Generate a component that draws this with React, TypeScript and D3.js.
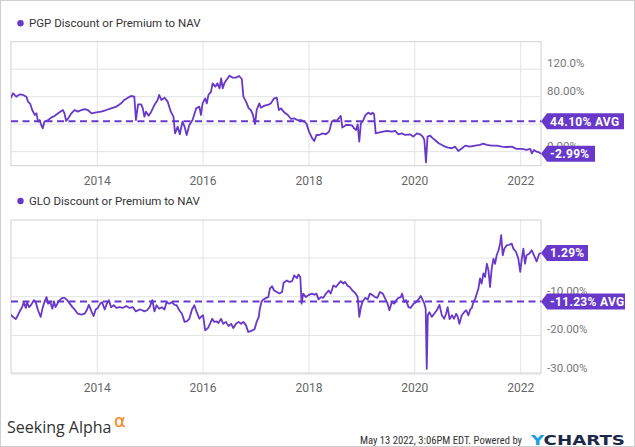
import * as d3 from 'd3'

const W = 635
const H = 447
const purple = '#6738c9'
const font = 'Roboto, "Noto Sans", sans-serif'

// PGP discount or premium to NAV (%), sampled at decimal years
const pgpYears = [
  2012.36, 2012.41, 2012.47, 2012.53, 2012.6, 2012.66, 2012.69, 2012.73, 2012.77, 2012.82,
  2012.85, 2012.88, 2012.91, 2012.94, 2012.97, 2013.0, 2013.07, 2013.13, 2013.19, 2013.26,
  2013.32, 2013.35, 2013.38, 2013.41, 2013.45, 2013.51, 2013.57, 2013.63, 2013.7, 2013.76,
  2013.82, 2013.89, 2013.98, 2014.07, 2014.17, 2014.26, 2014.36, 2014.45, 2014.51, 2014.58,
  2014.64, 2014.7, 2014.73, 2014.77, 2014.83, 2014.86, 2014.89, 2014.92, 2014.97, 2015.02,
  2015.08, 2015.14, 2015.17, 2015.21, 2015.27, 2015.33, 2015.39, 2015.44, 2015.47, 2015.52,
  2015.56, 2015.61, 2015.65, 2015.69, 2015.74, 2015.8, 2015.87, 2015.93, 2015.96, 2015.99,
  2016.04, 2016.07, 2016.1, 2016.15, 2016.18, 2016.23, 2016.27, 2016.31, 2016.34, 2016.37,
  2016.4, 2016.44, 2016.5, 2016.56, 2016.62, 2016.68, 2016.73, 2016.76, 2016.81, 2016.86,
  2016.9, 2016.94, 2016.98, 2017.01, 2017.06, 2017.09, 2017.16, 2017.22, 2017.28, 2017.34,
  2017.39, 2017.43, 2017.47, 2017.53, 2017.6, 2017.66, 2017.72, 2017.78, 2017.85, 2017.91,
  2017.95, 2018.0, 2018.06, 2018.1, 2018.14, 2018.19, 2018.26, 2018.32, 2018.38, 2018.43,
  2018.48, 2018.52, 2018.56, 2018.6, 2018.63, 2018.7, 2018.76, 2018.82, 2018.85, 2018.89,
  2018.92, 2018.95, 2018.98, 2019.02, 2019.07, 2019.12, 2019.17, 2019.2, 2019.23, 2019.26,
  2019.33, 2019.47, 2019.57, 2019.63, 2019.69, 2019.75, 2019.82, 2019.91, 2019.97, 2020.04,
  2020.1, 2020.15, 2020.18, 2020.21, 2020.24, 2020.29, 2020.34, 2020.38, 2020.45, 2020.51,
  2020.57, 2020.63, 2020.7, 2020.76, 2020.82, 2020.89, 2020.95, 2021.04, 2021.14, 2021.23,
  2021.29, 2021.36, 2021.45, 2021.55, 2021.64, 2021.73, 2021.83, 2021.92, 2022.02, 2022.11,
  2022.18, 2022.21, 2022.25, 2022.3, 2022.35, 2022.38,
]
const pgpValues = [
  77.6, 85, 80, 83.4, 82.5, 80, 72.8, 70, 60.6, 53.4,
  55.8, 43.7, 46, 38.8, 34, 43.7, 46, 49.5, 52, 55.8,
  59.2, 60.6, 55.8, 44.7, 48.5, 55.8, 60.6, 58.2, 60.6, 62,
  60.6, 55.8, 57.3, 58.2, 60.6, 63, 65.5, 70.3, 75.2, 78.6,
  81, 80, 46, 68.9, 68.9, 63, 51, 58.2, 52.4, 58.2,
  68, 75.2, 82.5, 75.2, 78.6, 72.8, 58.2, 51, 26.7, 36.4,
  25.3, 43.7, 36.4, 24.3, 38.8, 46, 63, 65.5, 53.4, 70.3,
  77.6, 70.3, 82.5, 87.3, 99.4, 94.6, 99.4, 92.2, 106.7, 92.2,
  99.4, 104.3, 110.6, 107.7, 107.7, 110.1, 105.7, 80, 72.8, 63,
  60.6, 53.4, 40.3, 60.6, 70.3, 64, 67, 68, 70.3, 77.6,
  78.6, 60.6, 63, 57.3, 53.4, 47.6, 48.5, 46, 46, 43.7,
  41.2, 29.2, 19.4, 15.6, 24.3, 24.3, 26.7, 25.3, 29.2, 43.7,
  46, 44.7, 48.5, 52, 35, 38.8, 38.8, 37.9, 34, 31.6,
  39.8, 14.6, 41.2, 44.7, 53.4, 56.8, 54.4, 56.8, 54.4, 26.7,
  28.2, 30.1, 29.2, 30.1, 25.3, 26.7, 24.3, 25.3, 21.9, 26.7,
  25.3, 21.9, 17, -15.5, 21.9, 23.3, 19.4, 17, 12.2, 9.8,
  7.3, 5.9, 5, 7.3, 1, 5, 8.8, 7.3, 8.8, 9.8,
  11.7, 9.8, 8.8, 8.8, 7.3, 6.8, 7.3, 4, 4, 2.5,
  4, -2.4, 2.5, 0, -1, -2.99,
]

// GLO discount or premium to NAV (%), sampled at decimal years
const gloYears = [
  2012.36, 2012.41, 2012.46, 2012.5, 2012.545, 2012.58, 2012.61, 2012.65, 2012.67, 2012.71,
  2012.75, 2012.8, 2012.835, 2012.88, 2012.93, 2012.97, 2013.0, 2013.04, 2013.07, 2013.11,
  2013.15, 2013.18, 2013.21, 2013.26, 2013.29, 2013.34, 2013.38, 2013.43, 2013.48, 2013.53,
  2013.57, 2013.63, 2013.7, 2013.76, 2013.8, 2013.84, 2013.89, 2013.93, 2013.97, 2014.01,
  2014.055, 2014.09, 2014.14, 2014.18, 2014.22, 2014.26, 2014.31, 2014.36, 2014.42, 2014.48,
  2014.545, 2014.61, 2014.67, 2014.73, 2014.8, 2014.85, 2014.89, 2014.94, 2014.99, 2015.04,
  2015.08, 2015.12, 2015.17, 2015.22, 2015.27, 2015.31, 2015.36, 2015.41, 2015.46, 2015.5,
  2015.55, 2015.6, 2015.65, 2015.69, 2015.74, 2015.79, 2015.835, 2015.88, 2015.93, 2015.96,
  2016.0, 2016.04, 2016.09, 2016.13, 2016.17, 2016.21, 2016.26, 2016.29, 2016.34, 2016.38,
  2016.43, 2016.48, 2016.53, 2016.57, 2016.62, 2016.67, 2016.715, 2016.76, 2016.81, 2016.85,
  2016.9, 2016.97, 2017.01, 2017.05, 2017.07, 2017.105, 2017.14, 2017.19, 2017.23, 2017.26,
  2017.3, 2017.34, 2017.39, 2017.44, 2017.49, 2017.52, 2017.58, 2017.63, 2017.68, 2017.72,
  2017.77, 2017.8, 2017.835, 2017.86, 2017.89, 2017.94, 2017.99, 2018.055, 2018.1, 2018.14,
  2018.18, 2018.225, 2018.27, 2018.32, 2018.37, 2018.41, 2018.46, 2018.51, 2018.56, 2018.6,
  2018.65, 2018.68, 2018.73, 2018.77, 2018.82, 2018.87, 2018.92, 2018.95, 2018.98, 2019.01,
  2019.06, 2019.11, 2019.15, 2019.2, 2019.25, 2019.29, 2019.34, 2019.395, 2019.44, 2019.485,
  2019.52, 2019.565, 2019.61, 2019.65, 2019.69, 2019.735, 2019.76, 2019.8, 2019.835, 2019.88,
  2019.92, 2019.975, 2020.025, 2020.07, 2020.11, 2020.15, 2020.18, 2020.205, 2020.225, 2020.245,
  2020.275, 2020.32, 2020.365, 2020.415, 2020.465, 2020.51, 2020.555, 2020.59, 2020.62, 2020.655,
  2020.7, 2020.74, 2020.78, 2020.81, 2020.84, 2020.885, 2020.93, 2020.97, 2021.01, 2021.045,
  2021.075, 2021.105, 2021.14, 2021.17, 2021.2, 2021.23, 2021.26, 2021.295, 2021.325, 2021.36,
  2021.39, 2021.42, 2021.45, 2021.485, 2021.515, 2021.545, 2021.58, 2021.61, 2021.63, 2021.66,
  2021.69, 2021.735, 2021.785, 2021.83, 2021.86, 2021.91, 2021.955, 2021.99, 2022.02, 2022.05,
  2022.08, 2022.11, 2022.16, 2022.205, 2022.25, 2022.3, 2022.35, 2022.38,
]
const gloValues = [
  -14.6, -15.2, -15.8, -14.8, -13.5, -12.7, -11.5, -12.9, -11.4, -12.7,
  -12.1, -10.9, -11.4, -13.5, -15.2, -12.7, -11.4, -10.1, -11.8, -11.4,
  -13.1, -11.2, -12.7, -11.4, -10.9, -10.3, -10.3, -10.9, -11.8, -12.7,
  -13.3, -14.4, -14.6, -14.4, -13.5, -12.1, -13.8, -15, -13.3, -12.9,
  -11.8, -11.4, -13.3, -11.8, -10.9, -12.7, -12.2, -12.9, -12.7, -12.9,
  -12.4, -12.9, -12.7, -13.8, -13.3, -13.5, -13.8, -13.5, -12.7, -10.9,
  -13.8, -12.2, -13.1, -12.7, -13.3, -11.4, -11.8, -11.4, -12.1, -12.2,
  -13.5, -14.4, -16.5, -16.4, -15.7, -13.3, -12.2, -14, -15.7, -15.2,
  -14.8, -18.7, -18.1, -17, -15.7, -16.5, -16.4, -16.8, -15.7, -17,
  -16.5, -17.6, -17, -18.1, -17, -16.5, -17, -16.5, -17.4, -19.1,
  -18.9, -18.4, -16.5, -15.2, -13.1, -11.2, -10.7, -10.3, -10.1, -7.9,
  -7.3, -8.4, -8.8, -9.2, -8.8, -6.4, -5.8, -6.2, -6.0, -4.5,
  -5.2, -4.3, -4.9, -11.8, -9.2, -10.1, -9.6, -9.2, -9.5, -9.2,
  -10.7, -10.1, -10.3, -9.2, -8.4, -9.2, -7.1, -7.5, -6.6, -6.0,
  -6.6, -6.2, -7.2, -7.5, -8.4, -9, -10.1, -15.2, -12.7, -11.4,
  -10.3, -10.7, -9.2, -9.6, -10.1, -10.3, -8.8, -9.2, -10.5, -11.8,
  -13.5, -11.4, -11.8, -10.9, -10.3, -10.1, -9.2, -11.4, -10.9, -12.7,
  -12.9, -11.8, -11.4, -10.7, -9.8, -10.9, -11.8, -13.1, -28.6, -14.8,
  -14, -15.2, -14.4, -13.5, -12.1, -14.8, -15.7, -14.4, -12.7, -15.8,
  -14.8, -15.7, -14.4, -15.2, -17, -14.8, -14, -13.5, -14.8, -13.3,
  -12.9, -11.4, -10.5, -9.2, -7.9, -5.3, -6.6, -4.0, -4.9, -1.5,
  -3.2, -7.5, -2.8, -0.2, -1.5, 0.7, 2.0, 3.7, 5.9, 0.7,
  2.4, 3.3, 3.4, 3.7, 2.4, 1.6, -0.2, -3.6, -0.2, 2.4,
  -1.5, 0.7, 1.1, 2.0, 0.7, -0.9, 1.1, 1.29,
]

const yearTicks = [2014, 2016, 2018, 2020, 2022]
const pgpTicks = [0, 40, 80, 120]
const pgpTickLabels = ['0.00%', '40.00%', '80.00%', '120.0%']
const gloTicks = [-30, -20, -10, 0]
const gloTickLabels = ['-30.00%', '-20.00%', '-10.00%', '0.00%']

const pgpAvg = 44.1
const gloAvg = -11.23

function toDate(y: number) {
  const yr = Math.floor(y)
  const a = new Date(yr, 0, 1).getTime()
  const b = new Date(yr + 1, 0, 1).getTime()
  return new Date(a + (y - yr) * (b - a))
}

const left = 11
const right = 541
const x = d3.scaleTime().domain([toDate(2012.37), toDate(2022.383)]).range([left, right])

function Badge({ cy, w, text }: { cy: number; w: number; text: string }) {
  const h = 16
  const d = `M${right},${cy} L${right + 6},${cy - h / 2} H${right + w} V${cy + h / 2} H${right + 6} Z`
  return (
    <g>
      <path d={d} fill={purple} />
      <text x={right + 9} y={cy + 4.3} fill="#fff" fontSize={12} fontWeight="bold" letterSpacing={0.3}>
        {text}
      </text>
    </g>
  )
}

type PanelProps = {
  id: string
  title: string
  top: number
  bottom: number
  domain: [number, number]
  years: number[]
  values: number[]
  ticks: number[]
  tickLabels: string[]
  avg: number
  avgW: number
  lastW: number
  legendY: number
  yearY: number
}

function Panel(p: PanelProps) {
  const y = d3.scaleLinear().domain(p.domain).range([p.bottom, p.top])
  const line = d3
    .line<number>()
    .x((_, i) => x(toDate(p.years[i])))
    .y((d) => y(d))
  const last = p.values[p.values.length - 1]
  const fmt = (v: number) => `${v.toFixed(2)}%`

  return (
    <g>
      <circle cx={20.5} cy={p.legendY - 4} r={3.2} fill={purple} />
      <text x={29} y={p.legendY} fontSize={11.5} fill="#333">
        {p.title}
      </text>
      <clipPath id={p.id}>
        <rect x={left} y={p.top} width={right - left} height={p.bottom - p.top} />
      </clipPath>
      {p.ticks.map((t) => (
        <line key={t} x1={left} x2={right} y1={y(t)} y2={y(t)} stroke="#e3e3e3" />
      ))}
      {yearTicks.map((yr) => (
        <g key={yr}>
          <line x1={x(toDate(yr))} x2={x(toDate(yr))} y1={p.top} y2={p.bottom} stroke="#e3e3e3" />
          <text x={x(toDate(yr))} y={p.yearY} fontSize={12} fill="#666" textAnchor="middle">
            {yr}
          </text>
        </g>
      ))}
      <rect x={left} y={p.top} width={right - left} height={p.bottom - p.top} fill="none" stroke="#d0d0d0" />
      {p.ticks.map((t, i) => (
        <text key={t} x={547} y={y(t) - 2} fontSize={11.5} fill="#777">
          {p.tickLabels[i]}
        </text>
      ))}
      <path d={line(p.values) ?? ''} fill="none" stroke={purple} strokeWidth={1.8} strokeLinejoin="round" clipPath={`url(#${p.id})`} />
      <line x1={left} x2={right} y1={y(p.avg)} y2={y(p.avg)} stroke={purple} strokeWidth={2} strokeDasharray="7,4.5" />
      <Badge cy={y(p.avg)} w={p.avgW} text={`${fmt(p.avg)} AVG`} />
      <Badge cy={y(last)} w={p.lastW} text={fmt(last)} />
    </g>
  )
}

export default function App() {
  return (
    <svg
      width={W}
      height={H}
      style={{ position: 'absolute', left: 0, top: 0, background: '#fff', fontFamily: font }}
    >
      <rect x={0.5} y={0.5} width={W - 1} height={H - 1} fill="#fff" stroke="#cfcfcf" />
      <Panel
        id="clip-pgp"
        title="PGP Discount or Premium to NAV"
        top={41.7}
        bottom={165.7}
        domain={[-20.4, 160]}
        years={pgpYears}
        values={pgpValues}
        ticks={pgpTicks}
        tickLabels={pgpTickLabels}
        avg={pgpAvg}
        avgW={83}
        lastW={54}
        legendY={27.3}
        yearY={184.5}
      />
      <Panel
        id="clip-glo"
        title="GLO Discount or Premium to NAV"
        top={220}
        bottom={373}
        domain={[-29.7, 9.8]}
        years={gloYears}
        values={gloValues}
        ticks={gloTicks}
        tickLabels={gloTickLabels}
        avg={gloAvg}
        avgW={84}
        lastW={47}
        legendY={205}
        yearY={391.5}
      />
      <text x={7} y={433} fontSize={16} fill="#333" fontFamily='"Open Sans", sans-serif'>
        Seeking Alpha
      </text>
      <text x={114} y={427} fontSize={18} fill="#ff7f0f" fontFamily='"DejaVu Sans", sans-serif'>
        α
      </text>
      <text
        x={360}
        y={444}
        fontSize={11.5}
        fill="#333"
        fontFamily='"Liberation Sans Narrow", "Roboto Condensed", Roboto, sans-serif'
        textLength={162}
        lengthAdjust="spacingAndGlyphs"
      >
        May 13 2022, 3:06PM EDT.  Powered by
      </text>
      <text x={531} y={445} fontSize={14} fontWeight="bold" textLength={94} lengthAdjust="spacingAndGlyphs" fontFamily='"DejaVu Sans", sans-serif'>
        <tspan fill="#1aa0dc">Y</tspan>
        <tspan fill="#1c2a4a">CHARTS</tspan>
      </text>
    </svg>
  )
}
